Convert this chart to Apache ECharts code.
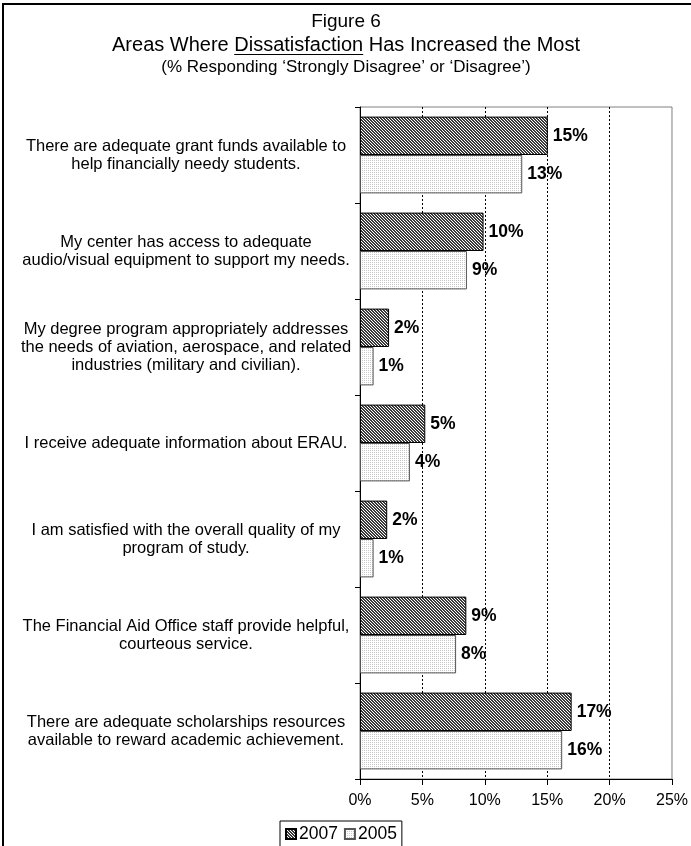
<!DOCTYPE html>
<html>
<head>
<meta charset="utf-8">
<script src="https://cdn.jsdelivr.net/npm/echarts@6/dist/echarts.min.js"></script>
<style>html,body{margin:0;padding:0;background:#fff;}#c{width:691px;height:846px;}</style>
</head>
<body>
<div id="c"></div>
<script>
var categories = [
  "There are adequate grant funds available to\nhelp financially needy students.",
  "My center has access to adequate\naudio/visual equipment to support my needs.",
  "My degree program appropriately addresses\nthe needs of aviation, aerospace, and related\nindustries (military and civilian).",
  "I receive adequate information about ERAU.",
  "I am satisfied with the overall quality of my\nprogram of study.",
  "The Financial Aid Office staff provide helpful,\ncourteous service.",
  "There are adequate scholarships resources\navailable to reward academic achievement."
];
var values2007 = [15.05, 9.9, 2.33, 5.23, 2.18, 8.52, 16.96];
var values2005 = [13.0, 8.57, 1.09, 4.0, 1.09, 7.7, 16.2];
var xTicks = [0, 5, 10, 15, 20, 25];

var FONT = "'Liberation Sans', Arial, sans-serif";

function makePattern(kind) {
  var c = document.createElement('canvas');
  var n = kind === 'hatch' ? 3 : 4;
  c.width = n; c.height = n;
  var ctx = c.getContext('2d');
  ctx.fillStyle = '#ffffff';
  ctx.fillRect(0, 0, n, n);
  for (var x = 0; x < n; x++) {
    for (var y = 0; y < n; y++) {
      if (kind === 'hatch') {
        if ((x - y + n) % n !== 0) { ctx.fillStyle = '#3a3a3a'; ctx.fillRect(x, y, 1, 1); }
      } else {
        if (x % 2 === 0 && y % 2 === 0) { ctx.fillStyle = '#c8c8c8'; ctx.fillRect(x, y, 1, 1); }
      }
    }
  }
  return { image: c, repeat: 'repeat' };
}

var chart = echarts.init(document.getElementById('c'), null, { renderer: 'canvas' });

var mctx = document.createElement('canvas').getContext('2d');
function tw(text, font) { mctx.font = font; return mctx.measureText(text).width; }

var cx = 346;
var t1Font = "19px 'Liberation Sans', Arial, sans-serif";
var tFont = "20px 'Liberation Sans', Arial, sans-serif";
var line2 = "Areas Where Dissatisfaction Has Increased the Most";
var totalW = tw(line2, tFont);
var preW = tw("Areas Where ", tFont);
var wordW = tw("Dissatisfaction", tFont);
var ux1 = cx - totalW / 2 + preW;
var ux2 = ux1 + wordW;

var option = {
  animation: false,
  backgroundColor: '#ffffff',
  textStyle: { fontFamily: FONT },
  grid: { left: 360, right: 16, top: 107, bottom: 67, show: true, borderColor: '#808080', borderWidth: 1, backgroundColor: 'transparent' },
  legend: {
    data: ['2007', '2005'],
    left: 280, top: 821,
    itemWidth: 10, itemHeight: 10, itemGap: 6,
    padding: [4, 5, 6, 5],
    borderColor: '#000', borderWidth: 1,
    textStyle: { fontSize: 17.5, color: '#000', fontFamily: FONT, padding: [0, 0, 0, -2] },
    icon: 'rect'
  },
  xAxis: {
    type: 'value', min: 0, max: 25, interval: 5,
    axisLine: { show: true, lineStyle: { color: '#000', width: 1 } },
    axisTick: { show: true, length: 6, lineStyle: { color: '#000' } },
    axisLabel: { formatter: '{value}%', fontSize: 16, color: '#000', margin: 14, fontFamily: FONT },
    splitLine: { show: true, showMaxLine: false, lineStyle: { color: '#000', type: [2, 2], width: 1 } }
  },
  yAxis: {
    type: 'category', inverse: true, data: categories,
    axisLine: { show: true, lineStyle: { color: '#000', width: 1 } },
    axisTick: { show: true, length: 5, lineStyle: { color: '#000' } },
    axisLabel: { fontSize: 16.5, lineHeight: 18, color: '#000', align: 'center', margin: 174, fontFamily: FONT, interval: 0 }
  },
  series: [
    {
      name: '2007', type: 'bar', data: values2007,
      barGap: '0%', barCategoryGap: '20%',
      itemStyle: { color: makePattern('hatch'), borderColor: '#000', borderWidth: 1 },
      label: { show: true, position: 'right', distance: 5, fontSize: 17.5, fontWeight: 'bold', color: '#000', fontFamily: FONT,
        formatter: function (p) { return Math.round(p.value) + '%'; } }
    },
    {
      name: '2005', type: 'bar', data: values2005,
      barGap: '0%', barCategoryGap: '20%',
      itemStyle: { color: makePattern('dots'), borderColor: '#555', borderWidth: 1 },
      label: { show: true, position: 'right', distance: 5, fontSize: 17.5, fontWeight: 'bold', color: '#000', fontFamily: FONT,
        formatter: function (p) { return Math.round(p.value) + '%'; } }
    }
  ],
  graphic: [
    { type: 'rect', shape: { x: 3, y: 4, width: 720, height: 900 }, style: { fill: 'none', stroke: '#000', lineWidth: 2 }, silent: true, z: -1 },
    { type: 'text', style: { x: cx, y: 22, text: 'Figure 6', font: t1Font, fill: '#000', textAlign: 'center', textVerticalAlign: 'middle' } },
    { type: 'text', style: { x: cx, y: 45, text: line2, font: tFont, fill: '#000', textAlign: 'center', textVerticalAlign: 'middle' } },
    { type: 'line', shape: { x1: ux1, y1: 54.5, x2: ux2, y2: 54.5 }, style: { stroke: '#000', lineWidth: 1 } },
    { type: 'text', style: { x: cx, y: 67, text: '(% Responding \u2018Strongly Disagree\u2019 or \u2018Disagree\u2019)', font: "17px 'Liberation Sans', Arial, sans-serif", fill: '#000', textAlign: 'center', textVerticalAlign: 'middle' } }
  ]
};
chart.setOption(option);
</script>
</body>
</html>
